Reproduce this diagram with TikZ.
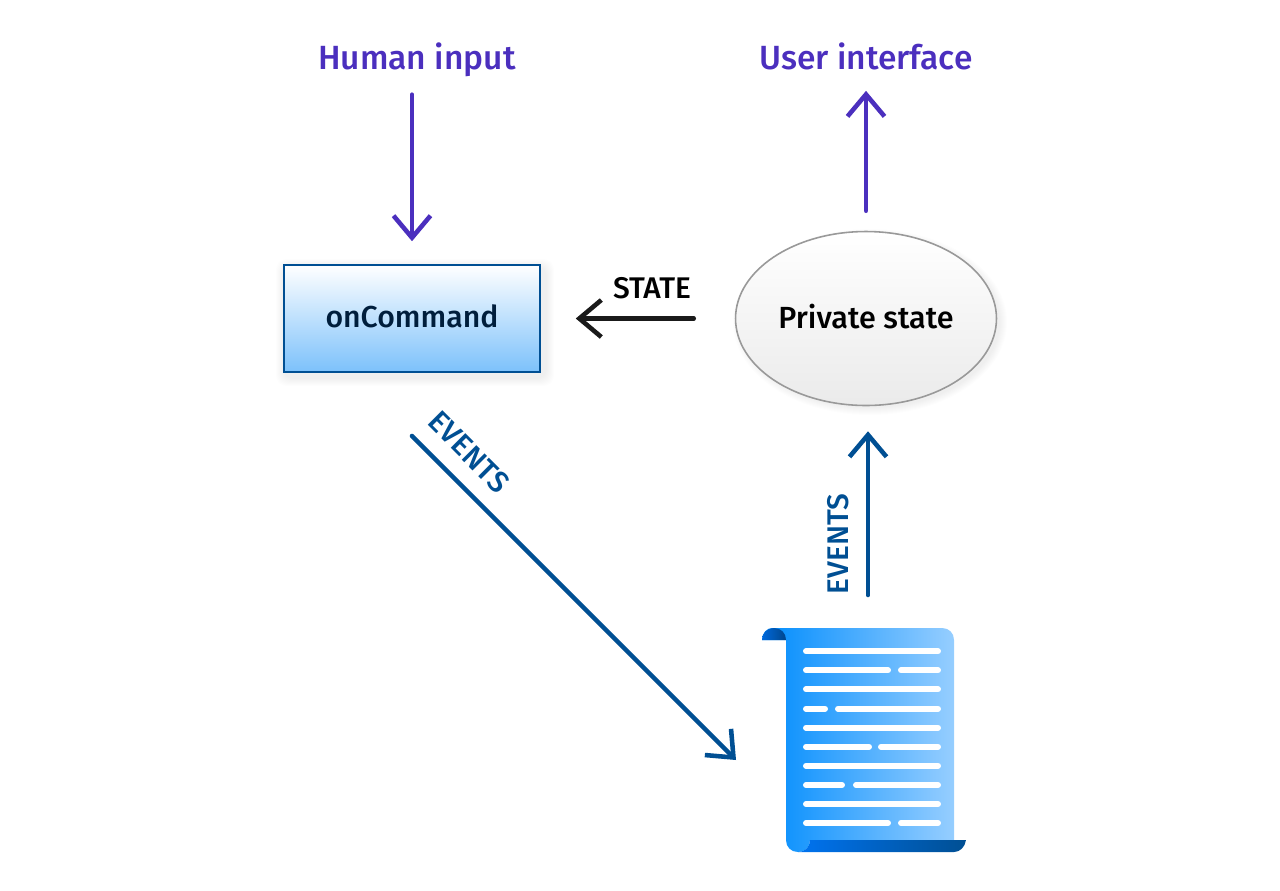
\documentclass[tikz,border=0pt]{standalone}
\usepackage{fontspec}
\setmainfont{Fira Sans Medium}
\usetikzlibrary{shapes.geometric, arrows.meta, positioning}
\definecolor{flowpurple}{RGB}{75, 47, 190}
\definecolor{eventblue}{RGB}{0, 79, 147}
\definecolor{statedark}{RGB}{26, 26, 26}
\definecolor{boxblue}{RGB}{124, 193, 251}
\definecolor{navytext}{RGB}{0, 30, 60}
\definecolor{scrollleft}{RGB}{0, 140, 253}
\definecolor{scrollright}{RGB}{150, 206, 255}
\definecolor{rollbright}{RGB}{0, 115, 240}
\definecolor{curlbright}{RGB}{0, 105, 220}
\definecolor{curldark}{RGB}{0, 70, 140}
\tikzset{
  flowline/.style={line width=2.6pt, line cap=round, -{Straight Barb[length=4.4mm, width=7.4mm, line width=2.6pt]}},
  titletext/.style={font=\fontsize{19.1}{23}\selectfont, text=flowpurple, inner sep=0pt, anchor=base},
  smalltext/.style={font=\fontsize{17}{20}\selectfont, inner sep=0pt},
  textbar/.style={line width=3.4pt, white, line cap=round},
}
\begin{document}
\begin{tikzpicture}[x=0.02cm, y=-0.02cm]
  \useasboundingbox (0, 0) rectangle (1280, 890);

  % Soft shadows
  \foreach \s in {1,...,8} {
    \fill[black, opacity=0.008, rounded corners=6pt] (284-\s, 267-\s) rectangle (546+\s, 378+\s);
    \fill[black, opacity=0.009] (870, 322) ellipse ({129+\s} and {85+\s});
  }

  % Nodes
  \node[draw=eventblue, line width=0.9pt, top color=white, bottom color=boxblue, minimum width=5.12cm, minimum height=2.14cm, font=\fontsize{17.2}{20}\selectfont, text=navytext, text depth=2.5pt] (oncommand) at (412, 318.5) {onCommand};
  \node[ellipse, draw=black!40, line width=0.9pt, top color=white, bottom color=black!8, inner sep=0pt, minimum width=5.22cm, minimum height=3.48cm, font=\fontsize{17.4}{20}\selectfont, text=black, text depth=2.5pt] (privatestate) at (866, 318.5) {Private state};
  \node[titletext] (humaninput) at (417, 69) {Human input};
  \node[titletext] (userinterface) at (866, 69) {User interface};
  \node[minimum width=4.08cm, minimum height=4.48cm, inner sep=0pt] (logscroll) at (864, 740) {};

  % Scroll
  \shade[left color=scrollleft, right color=scrollright] (772, 628) -- (942, 628) .. controls (949, 628) and (954, 633) .. (954, 640) -- (954, 840) -- (810, 840) .. controls (810, 847) and (805, 852) .. (798, 852) .. controls (791, 852) and (786, 847) .. (786, 840) -- (786, 640) -- (762, 640) .. controls (762, 633) and (767, 628) .. (772, 628) -- cycle;
  \shade[left color=curlbright, right color=curldark] (762, 640) .. controls (762, 633) and (767, 628) .. (774, 628) .. controls (781, 628) and (786, 633) .. (786, 640) -- cycle;
  \shade[left color=rollbright, right color=eventblue] (810, 840) -- (966, 840) .. controls (965, 847) and (960, 852) .. (954, 852) -- (798, 852) .. controls (805, 852) and (810, 847) .. (810, 840) -- cycle;
  \foreach \ya/\xa/\xb in {651.3/941/941, 670.3/891/898, 689.3/941/941, 708.7/828/835, 727.7/941/941, 746.7/872/878, 765.7/941/941, 785/845/853, 804/941/941, 823/891/898} {
    \draw[textbar] (806, \ya) -- (\xa-3, \ya);
    \ifdim\xa pt<941pt
      \draw[textbar] (\xb+3, \ya) -- (938, \ya);
    \fi
  }

  % Arrows
  \draw[flowline, flowpurple, shorten <=0.36cm, shorten >=0.46cm] (humaninput.south -| oncommand.north) -- (oncommand.north);
  \draw[flowline, flowpurple, shorten <=0.4cm, shorten >=0.42cm] (privatestate.north) -- (userinterface.south);
  \draw[flowline, statedark, shorten <=0.82cm, shorten >=0.7cm] (privatestate.west) -- (oncommand.east);
  \node[smalltext, text=black] (statelabel) at (652, 288) {STATE};

  % Events
  \coordinate (eventstart) at (412, 436);
  \coordinate (eventend) at (736, 760);
  \coordinate (eventup) at (868, 595);
  \draw[flowline, eventblue] (eventstart) -- (eventend);
  \draw[flowline, eventblue, shorten >=0.5cm] (eventup) -- (eventup |- privatestate.south);
  \node[smalltext, text=eventblue, rotate=-45] (eventlabela) at (469, 452) {EVENTS};
  \node[smalltext, text=eventblue, rotate=90] (eventlabelb) at (838, 544) {EVENTS};
\end{tikzpicture}
\end{document}
